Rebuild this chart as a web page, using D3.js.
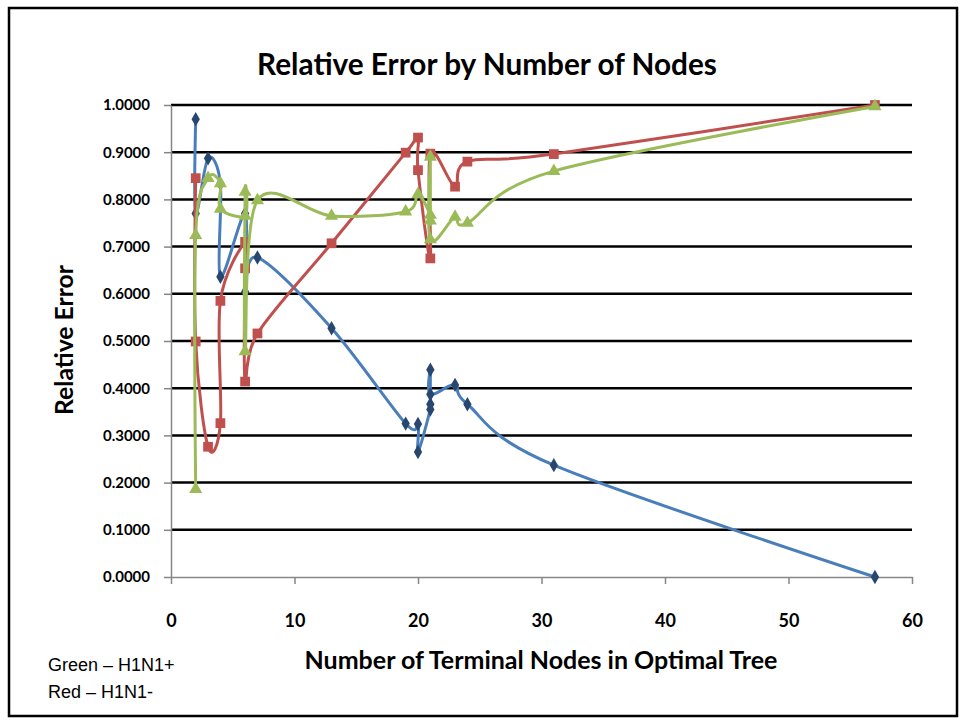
<!DOCTYPE html>
<html>
<head>
<meta charset="utf-8">
<script src="https://cdn.jsdelivr.net/npm/d3@7"></script>
<style>
  body { margin: 0; background: #fff; }
  svg { display: block; }
</style>
</head>
<body>
<svg id="chart"></svg>
<script>
const width = 967;
const height = 723;

// series (x = terminal nodes, y = relative error)
const blueX = [2, 2, 3, 4, 4, 6, 6, 7, 13, 19, 20, 20, 21, 21, 21, 21, 23, 24, 31, 57];
const blueY = [0.970, 0.770, 0.887, 0.833, 0.636, 0.770, 0.604, 0.677, 0.527, 0.325, 0.324, 0.265, 0.355, 0.366, 0.439, 0.387, 0.407, 0.366, 0.237, 0.000];

const redX = [2, 2, 3, 4, 4, 6, 6, 6, 7, 13, 19, 20, 20, 21, 21, 23, 24, 31, 57];
const redY = [0.845, 0.499, 0.276, 0.326, 0.585, 0.710, 0.654, 0.414, 0.516, 0.707, 0.899, 0.931, 0.862, 0.675, 0.897, 0.827, 0.880, 0.896, 1.000];

const greenX = [2, 2, 3, 4, 4, 6, 6, 6, 7, 13, 19, 20, 21, 21, 21, 21, 23, 24, 31, 57];
const greenY = [0.186, 0.724, 0.845, 0.834, 0.780, 0.765, 0.816, 0.478, 0.798, 0.765, 0.774, 0.811, 0.767, 0.755, 0.890, 0.715, 0.763, 0.750, 0.860, 0.997];

const xTicks = [0, 10, 20, 30, 40, 50, 60];
const yTicks = [0, 0.1, 0.2, 0.3, 0.4, 0.5, 0.6, 0.7, 0.8, 0.9, 1.0];
const legendLines = ["Green \u2013 H1N1+", "Red \u2013 H1N1-"];

const font = "Lato, 'Open Sans', sans-serif";
const plot = { left: 171, right: 912, top: 105, bottom: 577 };

const x = d3.scaleLinear().domain([0, 60]).range([plot.left, plot.right]);
const y = d3.scaleLinear().domain([0, 1]).range([plot.bottom, plot.top]);

const svg = d3.select("#chart")
    .attr("width", width)
    .attr("height", height);

svg.append("rect")
    .attr("width", width).attr("height", height)
    .attr("fill", "#fff");

// outer frame
svg.append("rect")
    .attr("x", 9).attr("y", 8)
    .attr("width", 948).attr("height", 708)
    .attr("fill", "none")
    .attr("stroke", "#000")
    .attr("stroke-width", 2.5);

// shrink/grow a text until it spans the wanted width
function fitWidth(sel, target) {
    const w = sel.node().getComputedTextLength();
    const fs = parseFloat(sel.attr("font-size"));
    sel.attr("font-size", fs * target / w);
}

const title = svg.append("text")
    .attr("x", 487).attr("y", 75)
    .attr("text-anchor", "middle")
    .attr("font-family", font)
    .attr("font-weight", "bold")
    .attr("font-size", 24)
    .text("Relative Error by Number of Nodes");
fitWidth(title, 460);

// horizontal gridlines
svg.append("g")
    .selectAll("line").data(yTicks.filter(d => d > 0)).enter()
    .append("line")
    .attr("x1", plot.left).attr("x2", plot.right)
    .attr("y1", d => y(d)).attr("y2", d => y(d))
    .attr("stroke", "#000")
    .attr("stroke-width", 2.5);

// axes
const xAxis = svg.append("g")
    .attr("transform", "translate(0," + plot.bottom + ")")
    .call(d3.axisBottom(x).tickValues(xTicks).tickSize(7).tickSizeOuter(0).tickPadding(30));
const yAxis = svg.append("g")
    .attr("transform", "translate(" + plot.left + ",0)")
    .call(d3.axisLeft(y).tickValues(yTicks).tickSize(7).tickSizeOuter(0).tickPadding(14).tickFormat(d3.format(".4f")));

[xAxis, yAxis].forEach(a => {
    a.select(".domain").attr("stroke", "#868686").attr("stroke-width", 1.5);
    a.selectAll(".tick line").attr("stroke", "#868686").attr("stroke-width", 1.5);
    a.selectAll("text")
        .attr("fill", "#000")
        .attr("font-family", font)
        .attr("font-weight", "bold");
});
xAxis.selectAll("text").attr("font-size", 18);
yAxis.selectAll("text").attr("font-size", 15);

const xTitle = svg.append("text")
    .attr("x", 541).attr("y", 669)
    .attr("text-anchor", "middle")
    .attr("font-family", font)
    .attr("font-weight", "bold")
    .attr("font-size", 19)
    .text("Number of Terminal Nodes in Optimal Tree");
fitWidth(xTitle, 473);

const yTitle = svg.append("text")
    .attr("transform", "translate(73,340) rotate(-90)")
    .attr("text-anchor", "middle")
    .attr("font-family", font)
    .attr("font-weight", "bold")
    .attr("font-size", 18)
    .text("Relative Error");
fitWidth(yTitle, 150);

svg.append("g").selectAll("text").data(legendLines).enter()
    .append("text")
    .attr("x", 48)
    .attr("y", (d, i) => 671 + i * 27)
    .attr("font-family", "'Liberation Sans', Arial, sans-serif")
    .attr("font-size", 18)
    .attr("fill", "#000")
    .text(d => d);

// series
const series = [
    { xs: blueX, ys: blueY, line: "#4A7EBB", mark: "#27476F", symbol: d3.symbolDiamond, size: 60 },
    { xs: redX, ys: redY, line: "#C0504D", mark: "#C0504D", symbol: d3.symbolSquare, size: 95 },
    { xs: greenX, ys: greenY, line: "#9BBB59", mark: "#9BBB59", symbol: d3.symbolTriangle, size: 75 }
];

const line = d3.line()
    .x(d => x(d[0]))
    .y(d => y(d[1]))
    .curve(d3.curveCatmullRom.alpha(0));

series.forEach(s => {
    const pts = s.xs.map((v, i) => [v, s.ys[i]]);
    const g = svg.append("g");
    g.append("path")
        .attr("d", line(pts))
        .attr("fill", "none")
        .attr("stroke", s.line)
        .attr("stroke-width", 3)
        .attr("stroke-linejoin", "round");
    g.selectAll("path.mark").data(pts).enter()
        .append("path")
        .attr("class", "mark")
        .attr("transform", d => "translate(" + x(d[0]) + "," + y(d[1]) + ")")
        .attr("d", d3.symbol().type(s.symbol).size(s.size))
        .attr("fill", s.mark);
});
</script>
</body>
</html>
